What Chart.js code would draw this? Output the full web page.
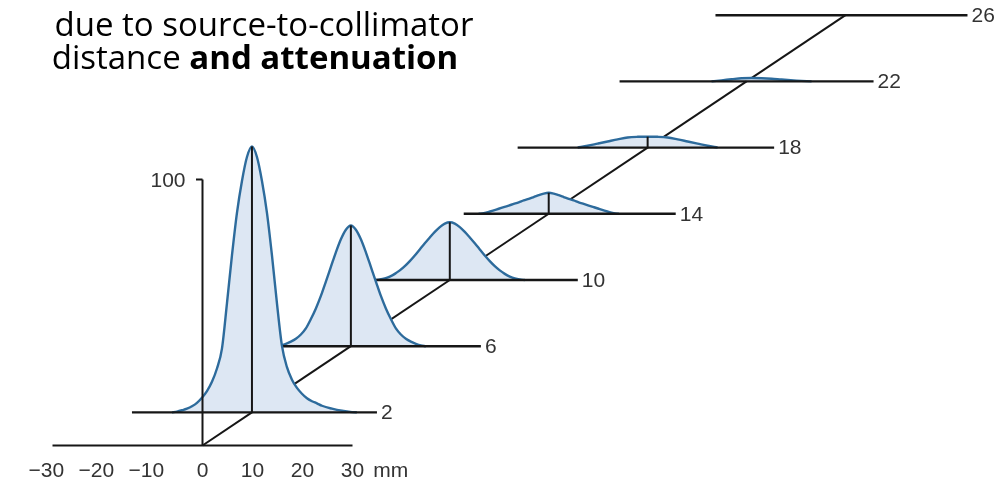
<!DOCTYPE html>
<html>
<head>
<meta charset="utf-8">
<script src="https://cdn.jsdelivr.net/npm/chart.js@4.4.1/dist/chart.umd.min.js"></script>
<style>
  html, body { margin: 0; padding: 0; background: #ffffff; }
  #wrap { width: 1006px; height: 485px; position: relative; }
</style>
</head>
<body>
<div id="wrap"><canvas id="c"></canvas></div>
<script>
// Depths (cm) at which the lateral profiles were taken
const depths = [2, 6, 10, 14, 18, 22, 26];
const depthLabels = ['2', '6', '10', '14', '18', '22', '26'];

// Relative count rate (%) against lateral position (mm), one profile per depth
const profile2 = [[-16, 0], [-15, 0.3], [-14, 0.8], [-13, 1.4], [-12, 2.3], [-11, 3.6], [-10, 5.5], [-9, 8],
  [-8, 11.5], [-7, 16.5], [-6, 24], [-5, 41], [-4, 59], [-3, 75], [-2, 87], [-1, 96], [0, 100],
  [1, 96], [2, 87], [3, 75], [4, 59], [5, 41], [6, 25], [7, 17], [8, 12.3], [9, 9.2], [10, 7], [11, 5.3],
  [12, 4.2], [13, 3.4], [14, 2.5], [16, 1.4], [18, 0.6], [20, 0.1], [21, 0]];
const profile6 = [[-15, 0], [-14, 0.3], [-13, 0.9], [-12, 1.7], [-11, 2.8], [-10, 4.4], [-9, 6.7], [-8, 10.2],
  [-7, 14.2], [-6, 18.9], [-5, 24.3], [-4, 29.8], [-3, 35.3], [-2, 40.2], [-1, 43.8], [0, 45.4],
  [1, 43.8], [2, 40.2], [3, 35.3], [4, 29.8], [5, 24.3], [6, 18.9], [7, 14.2], [8, 10.2], [9, 6.7],
  [10, 4.4], [11, 2.8], [12, 1.7], [13, 0.9], [14, 0.3], [15, 0]];
const profile10 = [[-15, 0], [-14, 0.2], [-13, 0.6], [-12, 1.3], [-11, 2.3], [-10, 3.6], [-9, 5.2], [-8, 7.1],
  [-7, 9.2], [-6, 11.5], [-5, 13.8], [-4, 16], [-3, 18.1], [-2, 19.9], [-1, 21.2], [0, 21.7],
  [1, 21.2], [2, 19.9], [3, 18.1], [4, 16], [5, 13.8], [6, 11.5], [7, 9.2], [8, 7.1], [9, 5.2],
  [10, 3.6], [11, 2.3], [12, 1.3], [13, 0.6], [14, 0.2], [15, 0]];
const profile14 = [[-14, 0], [-13, 0.25], [-12, 0.7], [-11, 1.3], [-10, 1.9], [-9, 2.5], [-8, 3.1], [-7, 3.7],
  [-6, 4.3], [-5, 5.0], [-4, 5.6], [-3, 6.3], [-2, 7.0], [-1, 7.6], [0, 7.9],
  [1, 7.6], [2, 7.0], [3, 6.3], [4, 5.6], [5, 5.0], [6, 4.3], [7, 3.7], [8, 3.1], [9, 2.5], [10, 1.9],
  [11, 1.3], [12, 0.7], [13, 0.25], [14, 0]];
const profile18 = [[-14, 0], [-12, 0.7], [-10, 1.5], [-8, 2.3], [-6, 3.1], [-4, 3.8], [-2, 4.05], [0, 4.1],
  [2, 4.05], [4, 3.8], [6, 3.1], [8, 2.3], [10, 1.5], [12, 0.7], [14, 0]];
const profile22 = [[-7, 0], [-5, 0.4], [-3, 0.8], [-1, 1.2], [1, 1.3], [3, 1.2], [5, 1.0], [7, 0.7],
  [10, 0.3], [13, 0]];
const profile26 = [];
const profiles = [profile2, profile6, profile10, profile14, profile18, profile22, profile26];

// Lateral extent (mm) of each depth's baseline
const lineLeft = [-24, -15, -15.4, -17, -26, -25.4, -26];
const lineRight = [25, 26, 25.6, 25.4, 25.3, 25.4, 24.4];

// Front (depth 0) axes
const lateralTicks = [-30, -20, -10, 0, 10, 20, 30];
const lateralTickLabels = ['\u221230', '\u221220', '\u221210', '0', '10', '20', '30'];
const lateralUnit = 'mm';
const valueTicks = [100];
const valueTickLabels = ['100'];

const titleLine1 = 'due to source-to-collimator';
const titleLine2 = 'distance ';
const titleLine2Bold = 'and attenuation';

// Oblique projection of the depth axis: shift per cm of depth
const SHIFT_X = 4.946;   // mm of lateral axis
const SHIFT_Y = 6.222;   // % of value axis

const INK = '#161616';
const CURVE = '#2d6b9c';
const CURVE_FILL = '#dde7f3';
const TEXT = '#333333';

function proj(u, v, d) { return { x: u + d * SHIFT_X, y: v + d * SHIFT_Y }; }

function segment(points, width) {
  return {
    data: points, borderColor: INK, borderWidth: width || 2.2, pointRadius: 0,
    fill: false, tension: 0, borderCapStyle: 'butt'
  };
}

// Datasets are listed front to back: index 0 is painted last, on top.
const datasets = [];
datasets.push(segment([proj(0, 0, 0), proj(0, valueTicks[0], 0)], 2));
datasets.push(segment([proj(-1.3, valueTicks[0], 0), proj(0, valueTicks[0], 0)], 2));
datasets.push(segment([proj(lateralTicks[0], 0, 0), proj(lateralTicks[lateralTicks.length - 1], 0, 0)], 2));
datasets.push(segment([proj(0, 0, 0), proj(0, 0, depths[0])], 2));

depths.forEach((d, i) => {
  const prof = profiles[i];
  const peak = prof.find(p => p[0] === 0);
  if (peak) datasets.push(segment([proj(0, 0, d), proj(0, peak[1], d)], 2));
  datasets.push(segment([proj(lineLeft[i], 0, d), proj(lineRight[i], 0, d)], 2.4));
  if (prof.length) {
    datasets.push({
      data: prof.map(p => proj(p[0], p[1], d)),
      borderColor: CURVE, borderWidth: 2.4, backgroundColor: CURVE_FILL,
      fill: { value: d * SHIFT_Y }, pointRadius: 0, cubicInterpolationMode: 'monotone'
    });
  }
  if (i < depths.length - 1) datasets.push(segment([proj(0, 0, d), proj(0, 0, depths[i + 1])], 2));
});
datasets.forEach((ds, i) => { ds.order = i; });

const NUM_FONT = '"Liberation Sans", Arial, Helvetica, sans-serif';
const TITLE_FONT = '"Open Sans", Lato, sans-serif';

const sceneText = {
  id: 'sceneText',
  afterDatasetsDraw(chart) {
    const { ctx, scales: { x, y } } = chart;
    ctx.save();
    ctx.fillStyle = TEXT;
    ctx.font = '21px ' + NUM_FONT;
    ctx.textBaseline = 'middle';
    ctx.textAlign = 'left';

    // depth labels at the right end of each baseline
    depths.forEach((d, i) => {
      const p = proj(lineRight[i], 0, d);
      ctx.fillText(depthLabels[i], x.getPixelForValue(p.x) + 4, y.getPixelForValue(p.y) + 1);
    });

    // lateral tick labels along the front axis (digits centred on the tick)
    const by = y.getPixelForValue(0) + 26;
    let lastRight = 0;
    lateralTicks.forEach((v, i) => {
      const label = lateralTickLabels[i];
      const digits = label.replace('\u2212', '');
      const dw = ctx.measureText(digits).width;
      const fw = ctx.measureText(label).width;
      const px = x.getPixelForValue(v);
      ctx.fillText(label, px - dw / 2 - (fw - dw), by);
      lastRight = px + dw / 2;
    });
    ctx.fillText(lateralUnit, lastRight + 9, by);

    // value tick label
    ctx.textAlign = 'right';
    valueTicks.forEach((v, i) => {
      ctx.fillText(valueTickLabels[i], x.getPixelForValue(-3.4), y.getPixelForValue(v) + 2);
    });

    // heading
    const size = 33;
    ctx.fillStyle = '#000000';
    ctx.textBaseline = 'alphabetic';
    ctx.textAlign = 'center';
    ctx.font = size + 'px ' + TITLE_FONT;
    ctx.fillText(titleLine1, 264, 36);
    const w1 = ctx.measureText(titleLine2).width;
    ctx.font = 'bold ' + size + 'px ' + TITLE_FONT;
    const w2 = ctx.measureText(titleLine2Bold).width;
    const sx = 255 - (w1 + w2) / 2;
    ctx.textAlign = 'left';
    ctx.font = size + 'px ' + TITLE_FONT;
    ctx.fillText(titleLine2, sx, 69);
    ctx.font = 'bold ' + size + 'px ' + TITLE_FONT;
    ctx.fillText(titleLine2Bold, sx + w1, 69);
    ctx.restore();
  }
};

new Chart(document.getElementById('c'), {
  type: 'line',
  data: { datasets },
  options: {
    responsive: true,
    maintainAspectRatio: false,
    devicePixelRatio: 1,
    animation: false,
    events: [],
    layout: { padding: 0 },
    plugins: { legend: { display: false }, tooltip: { enabled: false }, title: { display: false } },
    scales: {
      x: { type: 'linear', display: false, min: -40.5, max: 160.7 },
      y: { type: 'linear', display: false, min: -14.85, max: 167.48 }
    }
  },
  plugins: [sceneText]
});
</script>
</body>
</html>
